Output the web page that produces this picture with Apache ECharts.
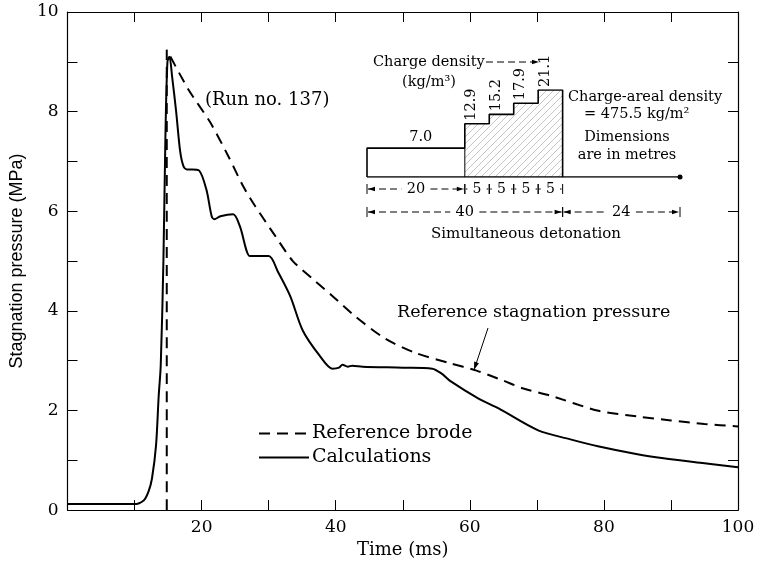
<!DOCTYPE html>
<html><head><meta charset="utf-8">
<script src="https://cdn.jsdelivr.net/npm/echarts@6/dist/echarts.min.js"></script>
<style>html,body{margin:0;padding:0;background:#fff}#c{width:758px;height:564px}</style>
</head><body><div id="c"></div>
<script>
// ---------------- data ----------------
const calcTime = [0, 5, 9.9, 11.4, 12.1, 12.6, 13.2, 13.6, 13.9, 14.3, 14.6, 14.9, 15.2, 15.6, 16.2, 16.8, 17.3, 17.8, 18.6, 19.6, 20.7, 21.5, 21.9, 22.8, 24.7, 25.7, 27.2, 27.8, 30.0, 31.4, 33.2, 35.1, 37.6, 39.5, 40.5, 41.0, 41.8, 42.5, 44, 50, 54.4, 55.8, 57, 61.3, 64.3, 70.2, 75, 79.1, 85, 88.9, 95, 100];
const calcPressure = [0.12, 0.12, 0.12, 0.2, 0.38, 0.64, 1.3, 2.3, 2.9, 5.0, 7.5, 9.0, 9.1, 8.7, 8.0, 7.2, 6.9, 6.84, 6.84, 6.82, 6.44, 5.9, 5.84, 5.9, 5.94, 5.7, 5.1, 5.1, 5.1, 4.78, 4.3, 3.6, 3.1, 2.84, 2.86, 2.92, 2.88, 2.9, 2.88, 2.86, 2.84, 2.74, 2.6, 2.24, 2.04, 1.6, 1.42, 1.28, 1.12, 1.04, 0.94, 0.86];
const brodeTime = [14.8, 14.8, 18, 21.3, 24, 26.2, 28, 31, 33.6, 36.5, 39.5, 43, 47.4, 52, 57, 61, 65, 68, 72, 79, 85, 90, 95, 100];
const brodePressure = [0, 9.24, 8.45, 7.78, 7.1, 6.5, 6.1, 5.5, 5.0, 4.65, 4.3, 3.88, 3.44, 3.15, 2.95, 2.8, 2.6, 2.44, 2.3, 2.0, 1.88, 1.8, 1.73, 1.68];
const xLabelValues = [20, 40, 60, 80, 100];
const yLabelValues = [0, 2, 4, 6, 8, 10];
// inset: charge layout
const segmentLengths = [20, 5, 5, 5, 5];
const chargeDensities = [7.0, 12.9, 15.2, 17.9, 21.1];
const leadLength = 24;
const seriesNames = ['Reference brode', 'Calculations'];

// ---------------- build ----------------
const SERIF = '"DejaVu Serif", "Liberation Serif", serif';
const zip = (a, b) => a.map((v, i) => [v, b[i]]);
const bounds = [0];
segmentLengths.forEach(l => bounds.push(bounds[bounds.length - 1] + l));
const chargeEnd = bounds[bounds.length - 1];
const leadEnd = chargeEnd + leadLength;

const outline = [[0, 0]];
chargeDensities.forEach((d, i) => { outline.push([bounds[i], d]); outline.push([bounds[i + 1], d]); });
outline.push([chargeEnd, 0]);
outline.push([0, 0]);
const hatchPts = [];
chargeDensities.forEach((d, i) => { if (i > 0) { hatchPts.push([bounds[i], d]); hatchPts.push([bounds[i + 1], d]); } });

const pc = document.createElement('canvas');
pc.width = 7; pc.height = 7;
const g = pc.getContext('2d');
g.strokeStyle = '#b5b5b5'; g.lineWidth = 0.8;
g.beginPath(); g.moveTo(0, 7); g.lineTo(7, 0); g.stroke();

const chart = echarts.init(document.getElementById('c'), null, {renderer: 'canvas'});
const axisCommon = {
  axisLine: {show: true, onZero: false, lineStyle: {color: '#000', width: 1.2}},
  axisTick: {show: true, inside: false, length: -10, lineStyle: {color: '#000', width: 1}},
  splitLine: {show: false}
};
const option = {
  animation: false,
  backgroundColor: '#fff',
  grid: [
    {left: 63, right: 20, top: 12, bottom: 52},
    {left: 367, width: 313, top: 90, height: 87}
  ],
  xAxis: [
    Object.assign({type: 'value', gridIndex: 0, min: 0, max: 100, interval: 10, position: 'bottom',
      name: 'Time (ms)', nameLocation: 'middle', nameGap: 27,
      nameTextStyle: {fontFamily: SERIF, fontSize: 18, color: '#000'},
      axisLabel: {color: '#000', fontFamily: SERIF, fontSize: 17, margin: 9,
        formatter: v => xLabelValues.includes(v) ? String(v) : ''}}, axisCommon),
    Object.assign({type: 'value', gridIndex: 0, min: 0, max: 100, interval: 10, position: 'top',
      axisLabel: {show: false}}, axisCommon),
    {type: 'value', gridIndex: 1, min: 0, max: leadEnd, show: false}
  ],
  yAxis: [
    Object.assign({type: 'value', gridIndex: 0, min: 0, max: 10, interval: 1, position: 'left',
      name: 'Stagnation pressure (MPa)', nameLocation: 'middle', nameGap: 40,
      nameTextStyle: {fontFamily: '"Liberation Sans", Arial, sans-serif', fontSize: 18, color: '#000'},
      axisLabel: {color: '#000', fontFamily: SERIF, fontSize: 17, margin: 9,
        formatter: v => yLabelValues.includes(v) ? String(v) : ''}}, axisCommon),
    Object.assign({type: 'value', gridIndex: 0, min: 0, max: 10, interval: 1, position: 'right',
      axisLabel: {show: false}}, axisCommon),
    {type: 'value', gridIndex: 1, min: 0, max: Math.max(...chargeDensities), show: false}
  ],
  legend: {
    data: seriesNames, orient: 'vertical', left: 253, top: 419, itemWidth: 50, itemHeight: 12, itemGap: 5,
    itemStyle: {opacity: 0},
    textStyle: {fontFamily: SERIF, fontSize: 19, color: '#000', padding: [0, 0, 0, -2]}
  },
  series: [
    {name: seriesNames[0], type: 'line', xAxisIndex: 0, yAxisIndex: 0, data: zip(brodeTime, brodePressure),
      symbol: 'none', smooth: 0.25, lineStyle: {color: '#000', width: 2, type: [11, 7]}, itemStyle: {color: '#000'}},
    {name: seriesNames[1], type: 'line', xAxisIndex: 0, yAxisIndex: 0, data: zip(calcTime, calcPressure),
      symbol: 'none', smooth: 0.3, lineStyle: {color: '#000', width: 2}, itemStyle: {color: '#000'}},
    {type: 'line', xAxisIndex: 2, yAxisIndex: 2, data: hatchPts, symbol: 'none', silent: true,
      lineStyle: {width: 0}, areaStyle: {color: {image: pc, repeat: 'repeat'}, opacity: 1}},
    {type: 'line', xAxisIndex: 2, yAxisIndex: 2, data: outline, symbol: 'none', silent: true,
      lineStyle: {color: '#000', width: 1.6}},
    {type: 'line', xAxisIndex: 2, yAxisIndex: 2, data: [[bounds[1], 0], [bounds[1], chargeDensities[0]]], symbol: 'none', silent: true,
      lineStyle: {color: '#000', width: 1}},
    {type: 'line', xAxisIndex: 2, yAxisIndex: 2, silent: true, showSymbol: true, symbol: 'circle', symbolSize: 5,
      data: [{value: [chargeEnd, 0], symbol: 'none'}, {value: [leadEnd, 0]}],
      itemStyle: {color: '#000'}, lineStyle: {color: '#000', width: 1.6}}
  ]
};
chart.setOption(option);

// ---------------- annotations ----------------
const P = (x, y) => chart.convertToPixel({gridIndex: 1}, [x, y]);
const els = [];
function txt(x, y, text, size, opts) {
  opts = opts || {};
  els.push({type: 'text', x: x, y: y, rotation: opts.rot || 0, silent: true,
    style: {text: text, fill: '#000', font: (size) + 'px ' + SERIF,
      textAlign: opts.align || 'center', textVerticalAlign: opts.valign || 'middle',
      align: opts.align || 'center', verticalAlign: opts.valign || 'middle'}});
}
function ln(x1, y1, x2, y2, w, dash) {
  els.push({type: 'line', silent: true, shape: {x1, y1, x2, y2},
    style: {stroke: '#000', lineWidth: w || 1, lineDash: dash || null}});
}
function arrowHead(x, y, ang, len, hw) {
  len = len || 7; hw = hw || 2.3;
  const c = Math.cos(ang), s = Math.sin(ang);
  const bx = x - c * len, by = y - s * len;
  els.push({type: 'polygon', silent: true, shape: {points: [[x, y], [bx - s * hw, by + c * hw], [bx + s * hw, by - c * hw]]},
    style: {fill: '#000'}});
}
function dim(x0, x1, y, label, size, arrows) {
  const mid = (x0 + x1) / 2, w = label.length * size * 0.33 + 5;
  ln(x0, y - 5, x0, y + 5, 1); ln(x1, y - 5, x1, y + 5, 1);
  ln(x0 + 1, y, mid - w, y, 1, arrows ? [7, 4] : null);
  ln(mid + w, y, x1 - 1, y, 1, arrows ? [7, 4] : null);
  if (arrows) { arrowHead(x0 + 1, y, Math.PI); arrowHead(x1 - 1, y, 0); }
  txt(mid, y, label, size);
}

const base = P(0, 0)[1];
// density labels
txt(P((bounds[0] + bounds[1]) / 2 + 1, chargeDensities[0])[0], P(0, chargeDensities[0])[1] - 11, chargeDensities[0].toFixed(1), 14.5);
for (let i = 1; i < chargeDensities.length; i++) {
  const p = P(bounds[i] + 1.4, chargeDensities[i]);
  txt(p[0], p[1] - 3, chargeDensities[i].toFixed(1), 14.5, {rot: Math.PI / 2, align: 'left'});
}
// dimension rows
const r1 = base + 12, r2 = base + 35;
dim(P(bounds[0], 0)[0], P(bounds[1], 0)[0], r1, String(segmentLengths[0]), 14.5, true);
for (let i = 1; i < segmentLengths.length; i++) dim(P(bounds[i], 0)[0], P(bounds[i + 1], 0)[0], r1, String(segmentLengths[i]), 14, false);
dim(P(0, 0)[0], P(chargeEnd, 0)[0], r2, String(chargeEnd), 14.5, true);
dim(P(chargeEnd, 0)[0], P(leadEnd, 0)[0], r2, String(leadLength), 14.5, true);
txt(P(32.5, 0)[0], base + 57, 'Simultaneous detonation', 15);
// inset headings
txt(373, 62, 'Charge density', 14.5, {align: 'left'});
ln(486, 62, 532, 62, 1, [7, 4]);
arrowHead(539, 62, 0);
txt(429, 82, '(kg/m³)', 14.5);
txt(568, 97, 'Charge-areal density', 14.5, {align: 'left'});
txt(584, 114, '= 475.5 kg/m²', 14.5, {align: 'left'});
txt(627, 137, 'Dimensions', 14.5);
txt(627, 155, 'are in metres', 14.5);
// main annotations
txt(205, 100, '(Run no. 137)', 18, {align: 'left'});
txt(397, 312, 'Reference stagnation pressure', 17.5, {align: 'left'});
ln(488, 328, 476, 364, 1);
arrowHead(474, 370, Math.atan2(370 - 328, 474 - 488), 8, 2.5);

chart.setOption({graphic: {elements: els}});
</script>
</body></html>
